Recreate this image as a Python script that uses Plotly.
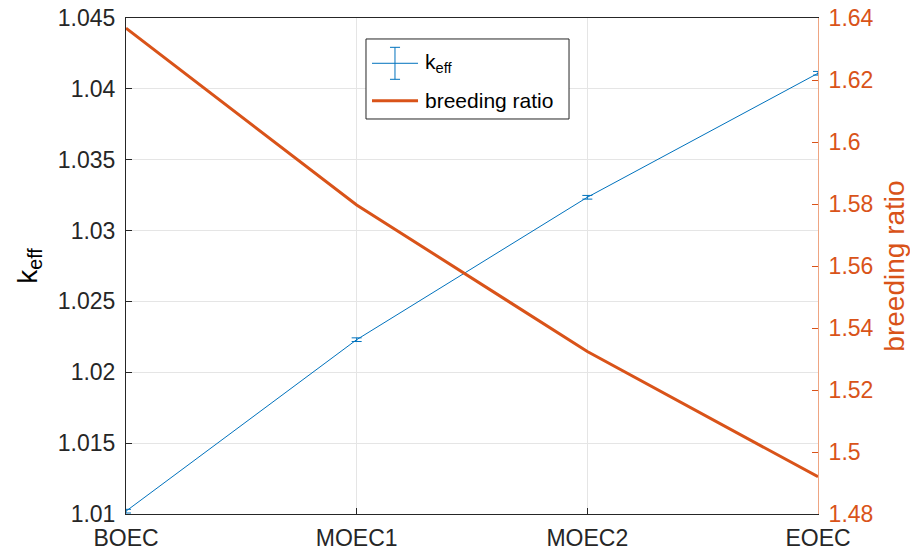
import plotly.graph_objects as go

stages = ["BOEC", "MOEC1", "MOEC2", "EOEC"]
keff = [1.0102, 1.0223, 1.03235, 1.0411]
keff_err = [0.00013, 0.00013, 0.00013, 0.00013]
breeding_ratio = [1.6367, 1.5797, 1.5324, 1.4920]

left_ticks = [1.01, 1.015, 1.02, 1.025, 1.03, 1.035, 1.04, 1.045]
left_ticktext = ["1.01", "1.015", "1.02", "1.025", "1.03", "1.035", "1.04", "1.045"]
right_ticks = [1.48, 1.5, 1.52, 1.54, 1.56, 1.58, 1.6, 1.62, 1.64]
right_ticktext = ["1.48", "1.5", "1.52", "1.54", "1.56", "1.58", "1.6", "1.62", "1.64"]

legend_labels = ["k<sub>eff</sub>", "breeding ratio"]

BLUE = "#0072BD"
ORANGE = "#D95319"
DARK = "#262626"
FONT = "Liberation Sans, Arial, Helvetica, sans-serif"

fig = go.Figure()
fig.add_trace(go.Scatter(
    x=stages, y=keff, mode="lines", name=legend_labels[0],
    line=dict(color=BLUE, width=1),
    error_y=dict(type="data", array=keff_err, color=BLUE, thickness=1, width=5),
    yaxis="y", showlegend=False,
))
fig.add_trace(go.Scatter(
    x=stages, y=breeding_ratio, mode="lines", name=legend_labels[1],
    line=dict(color=ORANGE, width=3),
    yaxis="y2", showlegend=False,
))

# Legend box drawn as decoration (paper coordinates)
shapes = [
    dict(type="rect", xref="paper", yref="paper", x0=0.3468, x1=0.6402, y0=0.7964, y1=0.9577,
         fillcolor="white", line=dict(color=DARK, width=1), layer="above"),
    dict(type="line", xref="paper", yref="paper", x0=0.3555, x1=0.4220, y0=0.9087, y1=0.9087,
         line=dict(color=BLUE, width=1), layer="above"),
    dict(type="line", xref="paper", yref="paper", x0=0.3887, x1=0.3887, y0=0.8764, y1=0.9409,
         line=dict(color=BLUE, width=1), layer="above"),
    dict(type="line", xref="paper", yref="paper", x0=0.3815, x1=0.3960, y0=0.9409, y1=0.9409,
         line=dict(color=BLUE, width=1), layer="above"),
    dict(type="line", xref="paper", yref="paper", x0=0.3815, x1=0.3960, y0=0.8764, y1=0.8764,
         line=dict(color=BLUE, width=1), layer="above"),
    dict(type="line", xref="paper", yref="paper", x0=0.3555, x1=0.4220, y0=0.8333, y1=0.8333,
         line=dict(color=ORANGE, width=3), layer="above"),
]
annotations = [
    dict(text=legend_labels[0], xref="paper", yref="paper", x=0.4290, y=0.9087,
         xanchor="left", yanchor="middle", showarrow=False,
         font=dict(size=21, color="black", family=FONT)),
    dict(text=legend_labels[1], xref="paper", yref="paper", x=0.4290, y=0.8333,
         xanchor="left", yanchor="middle", showarrow=False,
         font=dict(size=21, color="black", family=FONT)),
]

fig.update_layout(
    width=910, height=550,
    margin=dict(l=126, r=92, t=18, b=36, autoexpand=False),
    paper_bgcolor="white", plot_bgcolor="white",
    font=dict(family=FONT, size=23, color=DARK),
    showlegend=False,
    shapes=shapes,
    annotations=annotations,
    xaxis=dict(
        type="category", range=[0, 3], automargin=False,
        showgrid=True, gridcolor="#e5e5e5", gridwidth=1,
        showline=True, linecolor=DARK, linewidth=1, mirror=True,
        ticks="inside", ticklen=6, tickcolor=DARK,
        tickfont=dict(size=23, color=DARK),
        ticklabelstandoff=3,
        zeroline=False,
    ),
    yaxis=dict(
        range=[1.01, 1.045], tickvals=left_ticks, ticktext=left_ticktext, automargin=False,
        showgrid=True, gridcolor="#e5e5e5", gridwidth=1,
        showline=True, linecolor=DARK, linewidth=1,
        ticks="inside", ticklen=6, tickcolor=DARK,
        tickfont=dict(size=23, color=DARK),
        ticklabelstandoff=5,
        title=dict(text="k<sub>eff</sub>", font=dict(size=28, color="black"), standoff=12),
        zeroline=False,
    ),
    yaxis2=dict(
        range=[1.48, 1.64], tickvals=right_ticks, ticktext=right_ticktext, automargin=False,
        overlaying="y", side="right",
        showgrid=False,
        showline=True, linecolor="rgb(238,165,130)", linewidth=1,
        ticks="inside", ticklen=6, tickcolor=ORANGE,
        tickfont=dict(size=23, color=ORANGE),
        ticklabelstandoff=5,
        title=dict(text="breeding ratio", font=dict(size=28, color=ORANGE), standoff=12),
        zeroline=False,
    ),
)

fig.write_html("out.html")
